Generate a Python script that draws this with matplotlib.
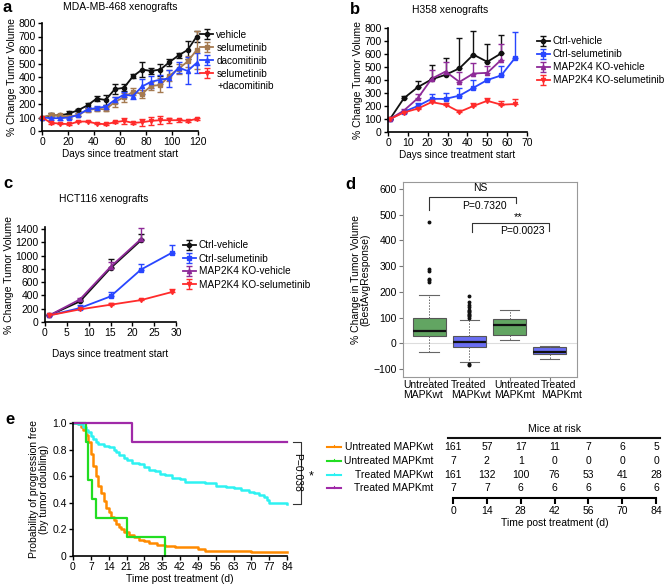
import matplotlib
matplotlib.use("Agg")
import matplotlib.pyplot as plt
import numpy as np

plt.rcParams['font.family'] = ['Liberation Sans', 'DejaVu Sans']
plt.rcParams['font.size'] = 7

W, H = 667, 586
fig = plt.figure(figsize=(W / 100, H / 100), dpi=100)


def ax_px(l, t, r, b):
    return fig.add_axes([l / W, 1 - b / H, (r - l) / W, (b - t) / H])


def style_prism(ax):
    ax.spines['top'].set_visible(False)
    ax.spines['right'].set_visible(False)
    ax.tick_params(length=3, width=1, pad=1.5, labelsize=7.5)
    for s in ('left', 'bottom'):
        ax.spines[s].set_linewidth(1.2)


# ---------------- Panel a data ----------------
a_days = [0, 7, 14, 21, 28, 35, 42, 49, 56, 63, 70, 77, 84, 91, 98, 105, 112, 119]
a_labels = ['vehicle', 'selumetinib', 'dacomitinib', 'selumetinib', '+dacomitinib']
a_vehicle = [100, 115, 115, 130, 155, 190, 240, 230, 310, 320, 405, 455, 445, 455, 510, 560, 600, 700]
a_vehicle_err = [0, 15, 10, 20, 10, 20, 20, 35, 35, 25, 15, 55, 25, 45, 25, 20, 65, 40]
a_selu = [100, 120, 115, 105, 120, 155, 165, 160, 215, 250, 290, 275, 335, 340, 410, 460, 515, 600]
a_selu_err = [0, 15, 10, 10, 10, 15, 15, 15, 40, 35, 25, 30, 30, 50, 40, 40, 40, 140]
a_daco = [100, 95, 95, 100, 120, 160, 170, 180, 230, 270, 260, 330, 365, 380, 390, 470, 445, 505]
a_daco_err = [0, 10, 10, 10, 10, 15, 15, 15, 20, 20, 25, 55, 45, 35, 65, 40, 100, 75]
a_combo = [100, 60, 55, 50, 70, 70, 55, 50, 65, 75, 60, 65, 75, 80, 80, 80, 75, 90]
a_combo_err = [0, 10, 5, 8, 5, 5, 5, 8, 8, 25, 10, 25, 30, 30, 20, 10, 8, 8]

# ---------------- Panel b data ----------------
b_days = [1, 8, 15, 22, 29, 36, 43, 50, 57, 64]
b_labels = ['Ctrl-vehicle', 'Ctrl-selumetinib', 'MAP2K4 KO-vehicle', 'MAP2K4 KO-selumetinib']
b_ctrl_veh = [100, 260, 345, 405, 440, 490, 595, 540, 605]
b_ctrl_veh_err = [0, 15, 45, 110, 130, 235, 180, 140, 145]
b_ctrl_selu = [100, 155, 200, 255, 255, 280, 340, 400, 435, 570]
b_ctrl_selu_err = [0, 10, 25, 40, 45, 60, 60, 10, 75, 200]
b_ko_veh = [100, 165, 260, 410, 465, 385, 450, 455, 555]
b_ko_veh_err = [0, 10, 30, 65, 75, 80, 80, 50, 120]
b_ko_selu = [100, 150, 180, 230, 210, 155, 200, 240, 210, 215]
b_ko_selu_err = [0, 5, 5, 10, 10, 15, 20, 25, 25, 40]

# ---------------- Panel c data ----------------
c_days = [1, 8, 15, 22, 29]
c_ctrl_veh = [100, 310, 810, 1230]
c_ctrl_veh_err = [0, 20, 140, 100]
c_ctrl_selu = [100, 210, 385, 790, 1040]
c_ctrl_selu_err = [0, 40, 65, 80, 115]
c_ko_veh = [100, 340, 830, 1250]
c_ko_veh_err = [0, 20, 80, 160]
c_ko_selu = [100, 190, 260, 330, 450]
c_ko_selu_err = [0, 10, 20, 20, 50]

# ---------------- Panel d data ----------------
d_groups = ['Untreated\nMAPKwt', 'Treated\nMAPKwt', 'Untreated\nMAPKmt', 'Treated\nMAPKmt']
d_q1 = [28, -15, 32, -42]
d_med = [48, 5, 70, -35]
d_q3 = [97, 30, 93, -13]
d_whislo = [-35, -72, 12, -62]
d_whishi = [187, 90, 128, -10]
d_fliers = [[240, 245, 250, 280, 290, 470],
            [100, 105, 110, 115, 120, 125, 130, 140, 150, 160, 185, -80, -85],
            [], []]

# ---------------- Panel e data ----------------
e_labels = ['Untreated MAPKwt', 'Untreated MAPKmt', 'Treated MAPKwt', 'Treated MAPKmt']
e_unt_wt_t = [0, 2, 3, 4, 5, 6, 7, 8, 9, 10, 11, 12, 13, 14, 15, 16, 17, 18, 19, 20, 22, 24,
              26, 28, 30, 33, 36, 40, 45, 49, 52, 60, 70, 84]
e_unt_wt_s = [1.0, 0.99, 0.97, 0.95, 0.91, 0.86, 0.77, 0.68, 0.60, 0.53, 0.47, 0.41, 0.36,
              0.33, 0.29, 0.27, 0.24, 0.22, 0.20, 0.18, 0.16, 0.14, 0.12, 0.11, 0.10, 0.085,
              0.075, 0.07, 0.065, 0.05, 0.04, 0.035, 0.03, 0.03]
e_unt_mt_t = [0, 5, 6, 7.5, 9, 21, 36, 36.2]
e_unt_mt_s = [1.0, 0.857, 0.571, 0.429, 0.286, 0.143, 0.0, 0.0]
e_tr_wt_t = [0, 2, 4, 5, 6, 7, 8, 9, 10, 12, 14, 16, 17, 18, 20, 21, 23, 26, 28, 30, 32, 34,
             36, 39, 42, 44, 47, 52, 56, 60, 63, 66, 69, 71, 73, 75, 76, 77, 84]
e_tr_wt_s = [1.0, 0.99, 0.97, 0.95, 0.93, 0.90, 0.88, 0.86, 0.84, 0.83, 0.82, 0.80, 0.78,
             0.76, 0.74, 0.72, 0.70, 0.69, 0.67, 0.65, 0.64, 0.62, 0.61, 0.59, 0.58, 0.56,
             0.56, 0.55, 0.53, 0.52, 0.51, 0.50, 0.48, 0.47, 0.46, 0.44, 0.42, 0.40, 0.39]
e_tr_mt_t = [0, 23, 84]
e_tr_mt_s = [1.0, 0.857, 0.857]
risk_times = [0, 14, 28, 42, 56, 70, 84]
risk_unt_wt = [161, 57, 17, 11, 7, 6, 5]
risk_unt_mt = [7, 2, 1, 0, 0, 0, 0]
risk_tr_wt = [161, 132, 100, 76, 53, 41, 28]
risk_tr_mt = [7, 7, 6, 6, 6, 6, 6]

BLACK = '#111111'
BROWN = '#a57a50'
BLUE = '#2846ff'
RED = '#ff2b2b'
PURPLE = '#8e2a98'

# ======== Panel a ========
ax = ax_px(42, 23, 198, 131)
style_prism(ax)
series_a = [(a_vehicle, a_vehicle_err, BLACK, 'o'), (a_selu, a_selu_err, BROWN, 's'),
            (a_daco, a_daco_err, BLUE, '^'), (a_combo, a_combo_err, RED, 'v')]
handles = []
for (vals, err, col, mk), lab in zip(series_a, a_labels):
    h = ax.errorbar(a_days, vals, yerr=err, color=col, marker=mk, ms=3, lw=1.3,
                    capsize=2.2, elinewidth=1, clip_on=False, label=lab)
    handles.append(h)
ax.set_xlim(0, 120)
ax.set_ylim(0, 800)
ax.set_xticks(range(0, 121, 20))
ax.set_yticks(range(0, 801, 100))
ax.set_xlabel('Days since treatment start', fontsize=7.2, labelpad=1)
ax.set_ylabel('% Change Tumor Volume', fontsize=7.5, labelpad=1)
ax.set_title('MDA-MB-468 xenografts', fontsize=7.5, pad=9)
ax.legend(handles=handles, loc='upper left', bbox_to_anchor=(0.99, 0.975), frameon=False,
          fontsize=7.2, handlelength=1.3, handletextpad=0.3, labelspacing=0.3,
          borderaxespad=0.0)
fig.text(218 / W, 1 - 86 / H, a_labels[4], ha='left', va='center', fontsize=7.2)
fig.text(3 / W, 1 - 8 / H, 'a', fontsize=12, fontweight='bold', va='center')

# ======== Panel b ========
ax = ax_px(388, 28, 527, 132)
style_prism(ax)
series_b = [(b_ctrl_veh, b_ctrl_veh_err, BLACK, 'o'), (b_ctrl_selu, b_ctrl_selu_err, BLUE, 's'),
            (b_ko_veh, b_ko_veh_err, PURPLE, '^'), (b_ko_selu, b_ko_selu_err, RED, 'v')]
handles = []
for (vals, err, col, mk), lab in zip(series_b, b_labels):
    d = b_days[:len(vals)]
    h = ax.errorbar(d, vals, yerr=[np.zeros(len(err)), err], color=col, marker=mk, ms=3,
                    lw=1.3, capsize=2.2, elinewidth=1, clip_on=False, label=lab)
    handles.append(h)
ax.set_xlim(0, 70)
ax.set_ylim(0, 800)
ax.set_xticks(range(0, 71, 10))
ax.set_yticks(range(0, 801, 100))
ax.set_xlabel('Days since treatment start', fontsize=7.2, labelpad=1)
ax.set_ylabel('% Change Tumor Volume', fontsize=7.5, labelpad=1)
ax.set_title('H358 xenografts', fontsize=7.5, pad=11, x=0.45)
ax.legend(handles=handles, loc='upper left', bbox_to_anchor=(1.04, 0.96), frameon=False,
          fontsize=7.2, handlelength=1.3, handletextpad=0.3, labelspacing=0.3,
          borderaxespad=0.0)
fig.text(350 / W, 1 - 10 / H, 'b', fontsize=12, fontweight='bold', va='center')

# ======== Panel c ========
ax = ax_px(45, 227, 176, 322)
style_prism(ax)
series_c = [(c_ctrl_veh, c_ctrl_veh_err, BLACK, 'o', b_labels[0]),
            (c_ctrl_selu, c_ctrl_selu_err, BLUE, 's', b_labels[1]),
            (c_ko_veh, c_ko_veh_err, PURPLE, '^', b_labels[2]),
            (c_ko_selu, c_ko_selu_err, RED, 'v', b_labels[3])]
handles = {}
for vals, err, col, mk, lab in series_c:
    d = c_days[:len(vals)]
    h = ax.errorbar(d, vals, yerr=[np.zeros(len(err)), err], color=col, marker=mk, ms=3,
                    lw=1.3, capsize=2.2, elinewidth=1, clip_on=False, label=lab)
    handles[lab] = h
ax.set_xlim(0, 30)
ax.set_ylim(0, 1430)
ax.set_xticks(range(0, 31, 5))
ax.set_yticks(range(0, 1401, 200))
ax.set_xlabel('Days since treatment start', fontsize=7.2, labelpad=8)
ax.set_ylabel('% Change Tumor Volume', fontsize=7.5, labelpad=1)
ax.set_title('HCT116 xenografts', fontsize=7.5, pad=18, x=0.45)
ax.legend(handles=[handles[l] for l in b_labels], loc='upper left',
          bbox_to_anchor=(1.02, 0.9), frameon=False, fontsize=7.2, handlelength=1.3,
          handletextpad=0.3, labelspacing=0.3, borderaxespad=0.0)
fig.text(3 / W, 1 - 183 / H, 'c', fontsize=12, fontweight='bold', va='center')

# ======== Panel d ========
ax = ax_px(403, 182, 577, 377)
stats = []
for i in range(4):
    stats.append(dict(med=d_med[i], q1=d_q1[i], q3=d_q3[i], whislo=d_whislo[i],
                      whishi=d_whishi[i], fliers=d_fliers[i], label=''))
ax.axhline(0, color='#dddddd', lw=0.8, zorder=0)
bp = ax.bxp(stats, positions=[1, 2, 3, 4], widths=0.82, patch_artist=True,
            boxprops=dict(edgecolor='#555555', linewidth=0.8),
            medianprops=dict(color='#111111', linewidth=1.6),
            whiskerprops=dict(color='#666666', linewidth=0.7, linestyle=(0, (1.5, 1.5))),
            capprops=dict(color='#666666', linewidth=0.8),
            flierprops=dict(marker='o', markersize=1.8, markerfacecolor='#111111',
                            markeredgecolor='#111111'))
for patch, col in zip(bp['boxes'], ['#62a562', '#6a6ef2', '#62a562', '#6a6ef2']):
    patch.set_facecolor(col)
for cap in bp['caps']:
    x0, x1 = cap.get_xdata()
    c = (x0 + x1) / 2
    cap.set_xdata([c - 0.24, c + 0.24])
ax.set_xlim(0.35, 4.675)
ax.set_ylim(-131, 627)
ax.set_yticks(range(-100, 601, 100))
ax.set_xticks([1, 2, 3, 4])
ax.set_xticklabels([])
for s in ax.spines.values():
    s.set_color('#999999')
    s.set_linewidth(0.8)
ax.tick_params(axis='y', length=3, labelsize=7.5, color='#777777', pad=1.5)
ax.tick_params(axis='x', length=3, color='#777777')
# group labels, left aligned as in the original
for lab, xl in zip(d_groups, [403, 451, 494, 541]):
    fig.text(xl / W, 1 - 380 / H, lab, ha='left', va='top', fontsize=7.5,
             multialignment='left', linespacing=1.05)
ax.set_ylabel('% Change in Tumor Volume\n(BestAvgResponse)', fontsize=7.5, labelpad=2,
              linespacing=1.0)
# significance brackets
ax.plot([1.0, 1.0, 3.15, 3.15], [518, 569, 569, 545], color='#333333', lw=0.8, clip_on=False)
ax.text(2.28, 583, 'NS', ha='center', va='bottom', fontsize=7.5)
ax.text(2.38, 555, 'P=0.7320', ha='center', va='top', fontsize=7.5)
ax.plot([2.07, 2.07, 3.98, 3.98], [433, 468, 468, 435], color='#333333', lw=0.8, clip_on=False)
ax.text(3.2, 470, '**', ha='center', va='bottom', fontsize=8)
ax.text(3.33, 455, 'P=0.0023', ha='center', va='top', fontsize=7.5)
fig.text(345 / W, 1 - 185 / H, 'd', fontsize=12, fontweight='bold', va='center')

# ======== Panel e ========
ax = ax_px(73, 423, 287, 556)
style_prism(ax)
ax.step(e_unt_wt_t, e_unt_wt_s, where='post', color='#ff8a00', lw=1.8, clip_on=False)
ax.step(e_tr_wt_t, e_tr_wt_s, where='post', color='#2ef2f2', lw=1.8, clip_on=False)
ax.step(e_unt_mt_t, e_unt_mt_s, where='post', color='#22dd22', lw=1.6, clip_on=False)
ax.step(e_tr_mt_t, e_tr_mt_s, where='post', color='#a02aa8', lw=1.6, clip_on=False)
ax.set_xlim(0, 84)
ax.set_ylim(0, 1.0)
ax.set_xticks(range(0, 85, 7))
ax.set_yticks([0, 0.2, 0.4, 0.6, 0.8, 1.0])
ax.set_yticklabels(['0', '0.2', '0.4', '0.6', '0.8', '1.0'])
ax.set_xlabel('Time post treatment (d)', fontsize=7.5, labelpad=1)
ax.set_ylabel('Probability of progression free\n(by tumor doubling)', fontsize=7.5,
              labelpad=2, linespacing=1.0)
# P bracket
ax.plot([86.5, 89.5, 89.5, 86.5], [0.86, 0.86, 0.39, 0.39], color='#333333', lw=0.8,
        clip_on=False)
ax.text(88.0, 0.625, 'P=0.038', rotation=-90, ha='center', va='center', fontsize=7.5)
ax.text(93.5, 0.6, '*', ha='center', va='center', fontsize=9)
fig.text(5 / W, 1 - 420 / H, 'e', fontsize=12, fontweight='bold', va='center')

# legend of e
leg_cols = ['#ff8a00', '#22dd22', '#2ef2f2', '#a02aa8']
leg_y = [447, 461, 475, 488]
for lab, col, y in zip(e_labels, leg_cols, leg_y):
    fig.add_artist(plt.Line2D([327 / W, 341 / W], [1 - y / H, 1 - y / H], color=col, lw=1.5))
    fig.add_artist(plt.Line2D([334 / W, 334 / W], [1 - (y - 2) / H, 1 - y / H], color=col, lw=0.8))
    fig.text(433 / W, 1 - y / H, lab, ha='right', va='center', fontsize=7.5)

# risk table
rax = ax_px(453, 425, 656, 498)
rax.set_xlim(0, 84)
rax.set_ylim(0, 73)
for s in ('top', 'right', 'left'):
    rax.spines[s].set_visible(False)
rax.spines['bottom'].set_linewidth(1.5)
rax.set_yticks([])
rax.set_xticks(risk_times)
rax.tick_params(axis='x', length=4, width=1.5, labelsize=7.5, pad=2)
rax.set_xlabel('Time post treatment (d)', fontsize=7.5, labelpad=1)
rows = [risk_unt_wt, risk_unt_mt, risk_tr_wt, risk_tr_mt]
for row, y in zip(rows, leg_y):
    for t, n in zip(risk_times, row):
        rax.text(t, 498 - y, str(n), ha='center', va='center', fontsize=7.5, clip_on=False)
rax.plot([-2, 85.7], [60, 60], color='#111111', lw=1.5, clip_on=False)
rax.text(42, 69, 'Mice at risk', ha='center', va='center', fontsize=7.5)

fig.savefig('out.png', dpi=100)
